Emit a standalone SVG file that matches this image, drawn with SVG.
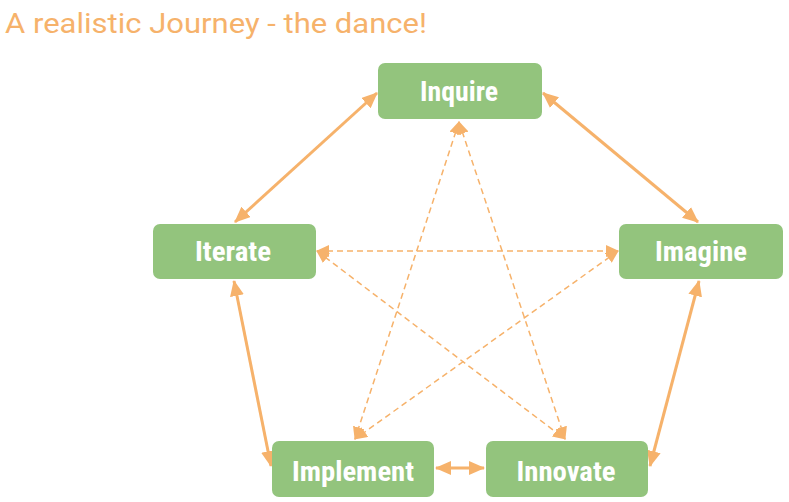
<svg xmlns="http://www.w3.org/2000/svg" width="789" height="502" viewBox="0 0 789 502">
<style>
.box{fill:#93C47D;}
.lbl{font-family:"Roboto Condensed",Roboto,"Liberation Sans",sans-serif;font-weight:bold;font-size:28px;fill:#ffffff;text-anchor:middle;}
.title{font-family:Roboto,"Liberation Sans",sans-serif;font-size:28px;fill:#F6B26B;}
.solid{stroke:#F6B26B;stroke-width:3;fill:none;marker-start:url(#ah);marker-end:url(#ah);}
.dash{stroke:#F6B26B;stroke-width:1.5;stroke-dasharray:6 4;fill:none;marker-start:url(#ahs);marker-end:url(#ahs);}
</style>
<defs>
<marker id="ah" markerUnits="userSpaceOnUse" markerWidth="16" markerHeight="14" refX="15" refY="7" orient="auto-start-reverse" viewBox="0 0 16 14">
<path d="M0,0 L16,7 L0,14 z" fill="#F6B26B"/>
</marker>
<marker id="ahs" markerUnits="userSpaceOnUse" markerWidth="13" markerHeight="12" refX="12" refY="6" orient="auto-start-reverse" viewBox="0 0 13 12">
<path d="M0,0 L13,6 L0,12 z" fill="#F6B26B"/>
</marker>
</defs>
<rect width="789" height="502" fill="#ffffff"/>
<text class="title" x="5" y="33" textLength="422" lengthAdjust="spacingAndGlyphs">A realistic Journey - the dance!</text>
<g id="connectors">
<line class="solid" x1="377" y1="93" x2="235" y2="222"/>
<line class="solid" x1="543" y1="93" x2="698" y2="222"/>
<line class="solid" x1="234" y1="281" x2="271" y2="466"/>
<line class="solid" x1="699" y1="281" x2="650" y2="466"/>
<line class="solid" x1="436" y1="468" x2="484" y2="468"/>
<line class="dash" x1="459" y1="122" x2="355" y2="439"/>
<line class="dash" x1="459" y1="122" x2="565" y2="439"/>
<line class="dash" x1="317" y1="251" x2="618" y2="251"/>
<line class="dash" x1="317" y1="251" x2="565" y2="439"/>
<line class="dash" x1="618" y1="251" x2="355" y2="439"/>
</g>
<g id="inquire"><rect class="box" x="378" y="63" width="164" height="56" rx="7"/><text class="lbl" x="459" y="101" textLength="78" lengthAdjust="spacingAndGlyphs">Inquire</text></g>
<g id="iterate"><rect class="box" x="153" y="224" width="163" height="55" rx="7"/><text class="lbl" x="233" y="261" textLength="76" lengthAdjust="spacingAndGlyphs">Iterate</text></g>
<g id="imagine"><rect class="box" x="619" y="224" width="164" height="55" rx="7"/><text class="lbl" x="701" y="261" textLength="92" lengthAdjust="spacingAndGlyphs">Imagine</text></g>
<g id="implement"><rect class="box" x="272" y="441" width="162" height="56" rx="7"/><text class="lbl" x="353" y="481" textLength="122" lengthAdjust="spacingAndGlyphs">Implement</text></g>
<g id="innovate"><rect class="box" x="486" y="441" width="162" height="56" rx="7"/><text class="lbl" x="566" y="481" textLength="99" lengthAdjust="spacingAndGlyphs">Innovate</text></g>
</svg>
